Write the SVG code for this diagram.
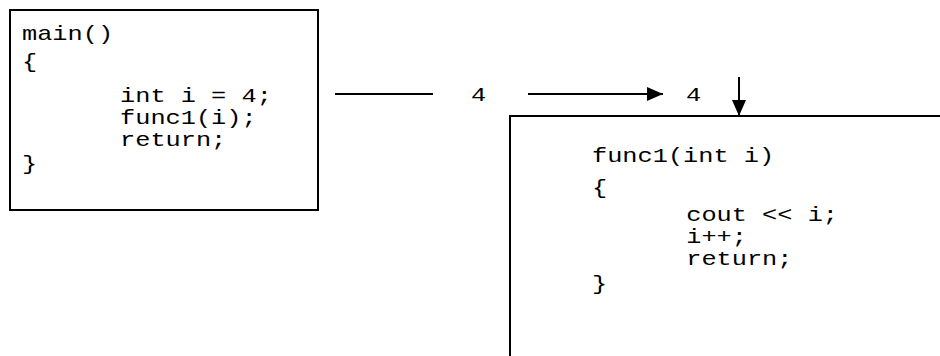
<svg xmlns="http://www.w3.org/2000/svg" width="940" height="356" viewBox="0 0 940 356">
  <style>
    .box { fill: #fff; stroke: #000; stroke-width: 2; }
    .code { font-family: "Liberation Mono", "Courier New", monospace; font-size: 20px; fill: #000; }
    .wire { stroke: #000; stroke-width: 2; fill: none; }
  </style>
  <defs>
    <marker id="head" viewBox="0 0 16 14" refX="16" refY="7" markerWidth="16" markerHeight="14" markerUnits="userSpaceOnUse" orient="auto">
      <path d="M0,0 L16,7 L0,14 Z" fill="#000"/>
    </marker>
  </defs>
  <rect width="940" height="356" fill="#fff"/>

  <g id="main-block">
    <rect class="box" x="10" y="10" width="308" height="200"/>
    <g class="code" transform="translate(22,0) scale(1.265,1)">
      <text x="0" y="40">main()</text>
      <text x="0" y="68">{</text>
      <text x="77.5" y="102">int i = 4;</text>
      <text x="77.5" y="124">func1(i);</text>
      <text x="77.5" y="146">return;</text>
      <text x="0" y="170">}</text>
    </g>
  </g>

  <g id="func1-block">
    <rect class="box" x="510" y="116" width="440" height="250"/>
    <g class="code" transform="translate(592,0) scale(1.265,1)">
      <text x="0" y="162">func1(int i)</text>
      <text x="0" y="194">{</text>
      <text x="74.5" y="221">cout &lt;&lt; i;</text>
      <text x="74.5" y="243">i++;</text>
      <text x="74.5" y="265">return;</text>
      <text x="0" y="290">}</text>
    </g>
  </g>

  <g id="connectors">
    <line class="wire" x1="335" y1="94" x2="433" y2="94"/>
    <line class="wire" x1="528" y1="94" x2="663" y2="94" marker-end="url(#head)"/>
    <line class="wire" x1="739" y1="77" x2="739" y2="116" marker-end="url(#head)"/>
  </g>

  <g id="values" class="code">
    <text transform="translate(471,101) scale(1.265,1)">4</text>
    <text transform="translate(686,101) scale(1.265,1)">4</text>
  </g>
</svg>
